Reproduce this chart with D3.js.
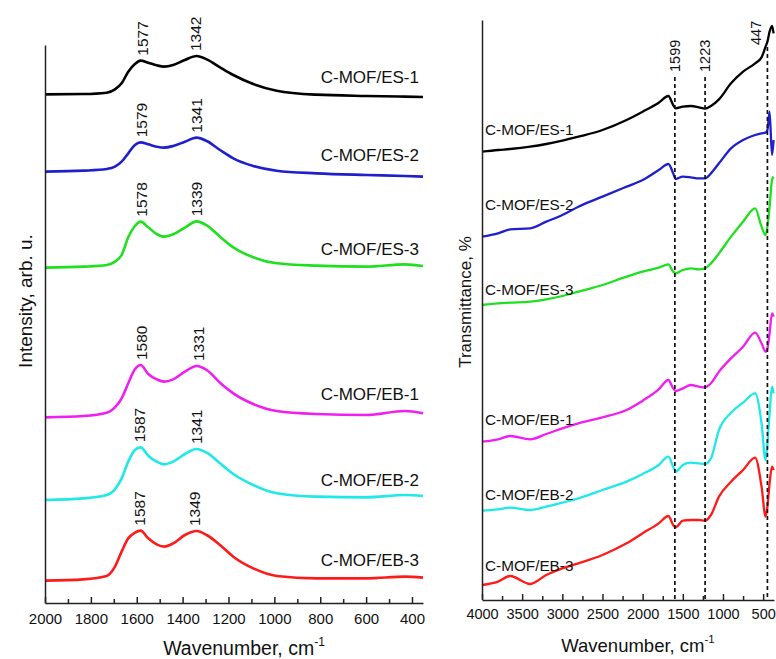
<!DOCTYPE html>
<html><head><meta charset="utf-8">
<script src="https://cdn.jsdelivr.net/npm/d3@7"></script>
<style>
body{margin:0;background:#fff}
svg{display:block}
text{font-family:"Liberation Sans",Arial,sans-serif;fill:#111}
</style>
</head><body>
<svg id="c" width="776" height="659"></svg>
<script>
// ---------------- DATA ----------------
const seriesNames = ["C-MOF/ES-1","C-MOF/ES-2","C-MOF/ES-3","C-MOF/EB-1","C-MOF/EB-2","C-MOF/EB-3"];

// Raman (left panel), intensity in arb. u. (stacked)
const ramanWavenumbers = [2000,1833,1731,1695,1666,1637,1608,1583,1550,1513,1481,1441,1390,1339,1295,1237,1179,1092,990,816,598,431,352];
const ramanES1 = [1526,1527,1531,1541,1559,1594,1617,1627,1621,1613,1609,1614,1629,1641,1631,1607,1584,1557,1537,1525,1521,1519,1518];
const ramanES2 = [1294,1297,1302,1309,1324,1349,1374,1382,1376,1369,1366,1371,1384,1396,1386,1359,1334,1311,1297,1289,1284,1281,1279];
const ramanES3 = [1006,1009,1014,1024,1044,1097,1131,1144,1127,1107,1099,1106,1126,1145,1133,1099,1067,1037,1019,1012,1009,1016,1011];
const ramanEB1 = [557,561,571,587,614,659,701,714,687,671,664,671,694,711,699,661,629,597,576,567,564,576,569];
const ramanEB2 = [309,314,324,341,374,424,459,467,442,424,416,424,447,462,451,419,387,354,329,319,317,324,321];
const ramanEB3 = [67,71,81,109,154,194,211,217,194,176,169,179,204,216,204,174,139,104,81,74,74,79,76];
const ramanPeaks = [[1577,1342],[1579,1341],[1578,1339],[1580,1331],[1587,1341],[1587,1349]];
const ramanTicks = [2000,1800,1600,1400,1200,1000,800,600,400];
const ramanMinorTicks = [1900,1700,1500,1300,1100,900,700,500];

// FTIR (right panel), transmittance (stacked)
const irWavenumbers = [4000,3800,3650,3400,3200,3000,2800,2500,2200,2000,1800,1680,1620,1590,1500,1400,1300,1223,1150,1050,900,750,600,520,470,447,420,390,370];
const irES1 = [1342,1347,1350,1357,1365,1375,1387,1407,1437,1462,1489,1509,1482,1472,1477,1479,1475,1471,1479,1499,1547,1582,1607,1625,1657,1672,1702,1719,1697];
const irES2 = [1087,1097,1109,1112,1132,1152,1177,1207,1237,1257,1287,1305,1277,1260,1267,1265,1262,1262,1277,1307,1352,1377,1392,1397,1399,1407,1462,1332,1377];
const irES3 = [882,887,889,892,899,909,922,942,967,982,994,1004,982,977,987,992,989,992,1007,1037,1087,1132,1172,1117,1092,1117,1177,1257,1267];
const irEB1 = [472,479,489,479,495,512,527,545,567,595,629,657,632,624,632,642,637,635,647,682,722,757,799,767,742,752,797,857,847];
const irEB2 = [265,269,274,267,277,289,302,327,352,375,402,427,397,382,402,409,407,405,422,507,559,589,617,527,417,467,557,637,617];
const irEB3 = [42,52,69,45,72,92,107,132,167,197,227,249,222,215,235,237,237,235,252,307,352,387,424,337,247,277,347,397,387];
const irMarkers = [1599,1223,447];
const irTicks = [4000,3500,3000,2500,2000,1500,1000,500];
const irMinorTicks = [3750,3250,2750,2250,1750,1250,750];

// ---------------- STYLE / LAYOUT ----------------
const colors = ["#000000","#1f1fcc","#1ee01e","#f01ef0","#1ee8e8","#ff1a1a"];
const ramanSeries = [ramanES1,ramanES2,ramanES3,ramanEB1,ramanEB2,ramanEB3];
const irSeries = [irES1,irES2,irES3,irEB1,irEB2,irEB3];
const ramanLabelGap = [14,15.7,11,13,10.3,11.7];
const irLabelGap = [17,27,10.5,16.7,10.7,14.3];

const svg = d3.select("#c");

// ---- Left panel ----
const xL = d3.scaleLinear().domain([2000,352]).range([45,423]);
const yL = d3.scaleLinear().domain([0,1674]).range([603,45]);
const gL = svg.append("g");

const lineL = d3.line().x(d=>xL(d[0])).y(d=>yL(d[1])).curve(d3.curveMonotoneX);
ramanSeries.forEach((s,i)=>{
  const pts = ramanWavenumbers.map((w,j)=>[w,s[j]]);
  gL.append("path").datum(pts).attr("d",lineL).attr("fill","none")
    .attr("stroke",colors[i]).attr("stroke-width",2.6).attr("stroke-linejoin","round");
  gL.append("text").attr("x",xL(352)-4).attr("y",yL(s[s.length-1])-ramanLabelGap[i])
    .attr("text-anchor","end").attr("font-size",17).text(seriesNames[i]);
  ramanPeaks[i].forEach(p=>{
    const near = pts.filter(d=>Math.abs(d[0]-p)<60);
    const m = d3.max(near,d=>d[1]);
    gL.append("text").attr("transform",`translate(${xL(p)},${yL(m)-5}) rotate(-90)`)
      .attr("text-anchor","start").attr("dominant-baseline","central")
      .attr("font-size",15.5).text(p);
  });
});

const axL = gL.append("g").attr("transform",`translate(0,${yL(0)})`)
  .call(d3.axisBottom(xL).tickValues(ramanTicks).tickSizeInner(-6).tickSizeOuter(0).tickPadding(10).tickFormat(d3.format("d")));
axL.selectAll("text").attr("font-size",15).style("font-family",'"Liberation Sans",Arial,sans-serif').attr("fill","#111");
gL.append("g").attr("transform",`translate(0,${yL(0)})`)
  .call(d3.axisBottom(xL).tickValues(ramanMinorTicks).tickSizeInner(-4).tickSizeOuter(0).tickFormat(""))
  .select(".domain").remove();
gL.append("g").attr("transform",`translate(${xL(2000)},0)`)
  .call(d3.axisLeft(yL).tickValues([]).tickSizeOuter(0));
gL.selectAll(".domain, .tick line").attr("stroke","#222").attr("stroke-width",1.5);

gL.append("text").attr("transform","translate(25,301) rotate(-90)")
  .attr("text-anchor","middle").attr("dominant-baseline","central").attr("font-size",19).text("Intensity, arb. u.");
const tL = gL.append("text").attr("x",244).attr("y",655).attr("text-anchor","middle").attr("font-size",19.5);
tL.append("tspan").text("Wavenumber, cm");
tL.append("tspan").attr("dy",-9).attr("font-size",12).text("-1");

// ---- Right panel ----
const xR = d3.scaleLinear().domain([4000,365]).range([482,774]);
const yR = d3.scaleLinear().domain([0,1737]).range([599,20]);
const gR = svg.append("g");
const lineR = d3.line().x(d=>xR(d[0])).y(d=>yR(d[1])).curve(d3.curveMonotoneX);
irSeries.forEach((s,i)=>{
  const pts = irWavenumbers.map((w,j)=>[w,s[j]]);
  gR.append("path").datum(pts).attr("d",lineR).attr("fill","none")
    .attr("stroke",colors[i]).attr("stroke-width",2.3).attr("stroke-linejoin","round");
  gR.append("text").attr("x",xR(4000)+3).attr("y",yR(s[0])-irLabelGap[i])
    .attr("text-anchor","start").attr("font-size",15.3).text(seriesNames[i]);
});

const markerTop = [77,77,47];
const markerLabelBottom = [72,72,45];
const markerLabelDx = [0,0,-11];
irMarkers.forEach((m,i)=>{
  gR.append("line").attr("x1",xR(m)).attr("x2",xR(m)).attr("y1",markerTop[i]).attr("y2",yR(0))
    .attr("stroke","#111").attr("stroke-width",1.7).attr("stroke-dasharray","4,3");
  gR.append("text").attr("transform",`translate(${xR(m)+markerLabelDx[i]},${markerLabelBottom[i]}) rotate(-90)`)
    .attr("text-anchor","start").attr("dominant-baseline","central").attr("font-size",14.5).text(m);
});

const axR = gR.append("g").attr("transform",`translate(0,${yR(0)+1})`)
  .call(d3.axisBottom(xR).tickValues(irTicks).tickSizeInner(-6).tickSizeOuter(0).tickPadding(9).tickFormat(d3.format("d")));
axR.selectAll("text").attr("font-size",14.5).style("font-family",'"Liberation Sans",Arial,sans-serif').attr("fill","#111");
gR.append("g").attr("transform",`translate(0,${yR(0)+1})`)
  .call(d3.axisBottom(xR).tickValues(irMinorTicks).tickSizeInner(-4).tickSizeOuter(0).tickFormat(""))
  .select(".domain").remove();
gR.append("g").attr("transform",`translate(${xR(4000)},0)`)
  .call(d3.axisLeft(yR).tickValues([]).tickSizeOuter(0));
gR.selectAll(".domain, .tick line").attr("stroke","#222").attr("stroke-width",1.5);

gR.append("text").attr("transform","translate(465,302) rotate(-90)")
  .attr("text-anchor","middle").attr("dominant-baseline","central").attr("font-size",17).text("Transmittance, %");
const tR = gR.append("text").attr("x",638).attr("y",652).attr("text-anchor","middle").attr("font-size",18.5);
tR.append("tspan").text("Wavenumber, cm");
tR.append("tspan").attr("dy",-9).attr("font-size",11.5).text("-1");
</script>
</body></html>
